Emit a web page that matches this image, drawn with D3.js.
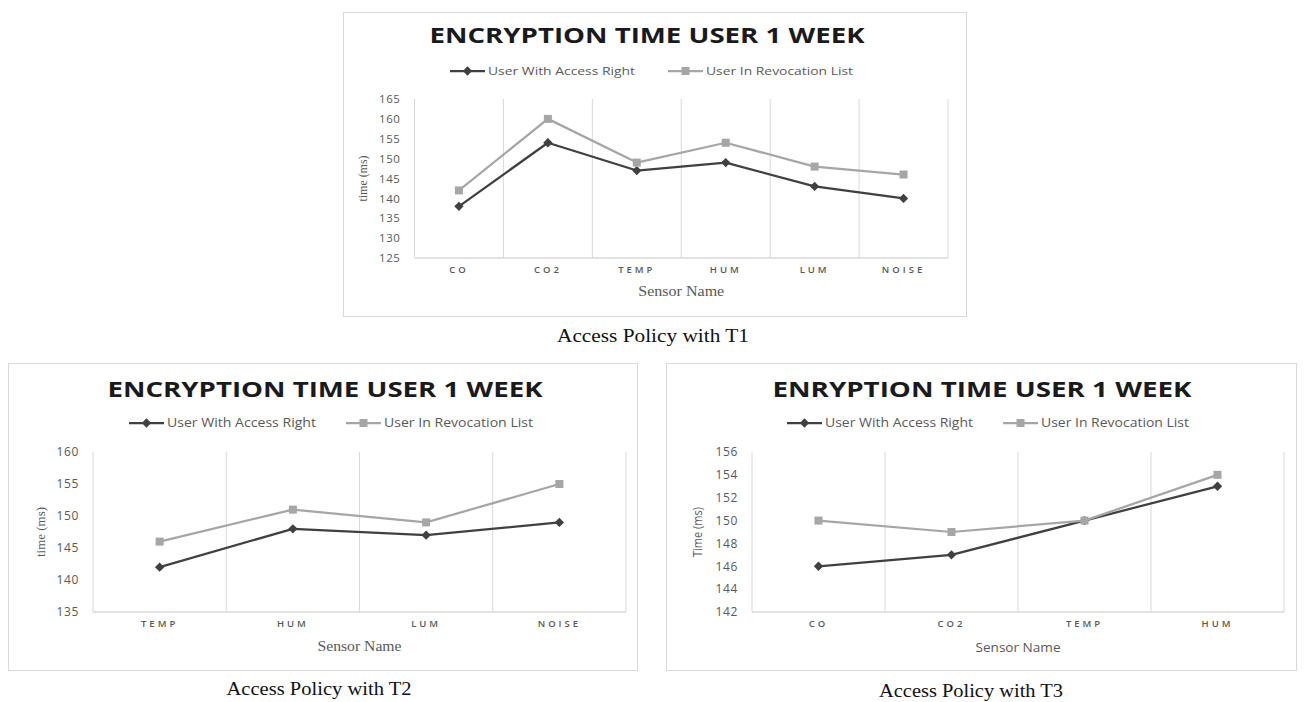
<!DOCTYPE html>
<html>
<head>
<meta charset="utf-8">
<script src="https://cdn.jsdelivr.net/npm/d3@7"></script>
<style>
  html, body { margin: 0; padding: 0; background: #fff; }
  svg { display: block; }
</style>
</head>
<body>
<div id="chart"></div>
<script>
// ---- data ----
const t1Categories = ["CO", "CO2", "TEMP", "HUM", "LUM", "NOISE"];
const t1AccessRight = [138, 154, 147, 149, 143, 140];
const t1Revocation = [142, 160, 149, 154, 148, 146];
const t1Ticks = [125, 130, 135, 140, 145, 150, 155, 160, 165];

const t2Categories = ["TEMP", "HUM", "LUM", "NOISE"];
const t2AccessRight = [142, 148, 147, 149];
const t2Revocation = [146, 151, 149, 155];
const t2Ticks = [135, 140, 145, 150, 155, 160];

const t3Categories = ["CO", "CO2", "TEMP", "HUM"];
const t3AccessRight = [146, 147, 150, 153];
const t3Revocation = [150, 149, 150, 154];
const t3Ticks = [142, 144, 146, 148, 150, 152, 154, 156];

const seriesNames = ["User With Access Right", "User In Revocation List"];

// ---- layout for the three panels ----
const serif = "'Liberation Serif', 'Times New Roman', serif";
const sans = "'Open Sans', sans-serif";

const panels = [
  {
    title: "ENCRYPTION TIME USER 1 WEEK", caption: "Access Policy with T1",
    categories: t1Categories, series: [t1AccessRight, t1Revocation], ticks: t1Ticks,
    box: [343, 12, 966, 316], plot: [414.5, 99, 948, 258],
    titleX: 647, titleY: 43, titleW: 435, titleSize: 21,
    legendY: 71, legendX: [450, 668], legendW: 147, legendSize: 11,
    tickSize: 11.5, catSize: 9.5, catY: 275,
    yTitle: "time (ms)", yTitleX: 367, yTitleFont: serif, yTitleSize: 12.5, yTitleW: 46,
    xTitleY: 296, xTitleFont: serif, xTitleSize: 14, xTitleW: 86,
    captionX: 653, captionY: 342, captionW: 192
  },
  {
    title: "ENCRYPTION TIME USER 1 WEEK", caption: "Access Policy with T2",
    categories: t2Categories, series: [t2AccessRight, t2Revocation], ticks: t2Ticks,
    box: [8, 363, 637, 670], plot: [93, 452, 626, 612],
    titleX: 325, titleY: 397, titleW: 435, titleSize: 22,
    legendY: 423, legendX: [129, 346], legendW: 149, legendSize: 12,
    tickSize: 12, catSize: 9.5, catY: 629,
    yTitle: "time (ms)", yTitleX: 45, yTitleFont: serif, yTitleSize: 12.5, yTitleW: 50,
    xTitleY: 651, xTitleFont: serif, xTitleSize: 14, xTitleW: 84,
    captionX: 319, captionY: 695, captionW: 185
  },
  {
    title: "ENRYPTION TIME USER 1 WEEK", caption: "Access Policy with T3",
    categories: t3Categories, series: [t3AccessRight, t3Revocation], ticks: t3Ticks,
    box: [666, 363, 1296, 670], plot: [752, 452, 1284, 612],
    titleX: 982, titleY: 397, titleW: 419, titleSize: 22,
    legendY: 423, legendX: [787, 1003], legendW: 148, legendSize: 12,
    tickSize: 12, catSize: 9.5, catY: 629,
    yTitle: "Time (ms)", yTitleX: 702, yTitleFont: sans, yTitleSize: 12, yTitleW: 50,
    xTitleY: 652, xTitleFont: sans, xTitleSize: 12, xTitleW: 85,
    captionX: 971, captionY: 697, captionW: 184
  }
];

const colors = ["#404040", "#a6a6a6"];
const gridColor = "#d9d9d9";
const textGrey = "#595959";

const svg = d3.select("#chart").append("svg")
  .attr("width", 1304)
  .attr("height", 702);

// diamond for series 0 (a rotated square), square for series 1
function marker(sel, i, x, y) {
  if (i === 0) {
    sel.append("rect")
      .attr("x", -3.3).attr("y", -3.3)
      .attr("width", 6.6).attr("height", 6.6)
      .attr("transform", `translate(${x},${y}) rotate(45)`)
      .attr("fill", colors[0]);
  } else {
    sel.append("rect")
      .attr("x", x - 4).attr("y", y - 4)
      .attr("width", 8).attr("height", 8)
      .attr("fill", colors[1]);
  }
}

panels.forEach(p => {
  const g = svg.append("g");
  const [bx0, by0, bx1, by1] = p.box;
  const [left, top, right, bottom] = p.plot;

  // chart frame
  g.append("rect")
    .attr("x", bx0 + 0.5).attr("y", by0 + 0.5)
    .attr("width", bx1 - bx0).attr("height", by1 - by0)
    .attr("fill", "#fff").attr("stroke", "#d9d9d9");

  const x = d3.scaleBand().domain(p.categories).range([left, right]);
  const y = d3.scaleLinear()
    .domain(d3.extent(p.ticks))
    .range([bottom, top]);

  // vertical gridlines at category boundaries
  const bounds = p.categories.map(c => x(c)).concat([right]);
  g.append("g").selectAll("line").data(bounds).join("line")
    .attr("x1", d => d).attr("x2", d => d)
    .attr("y1", top).attr("y2", bottom)
    .attr("stroke", gridColor).attr("stroke-width", 1);

  // baseline
  g.append("line")
    .attr("x1", left).attr("x2", right)
    .attr("y1", bottom).attr("y2", bottom)
    .attr("stroke", gridColor).attr("stroke-width", 1.5);

  // y axis labels
  const yAxis = g.append("g")
    .attr("transform", `translate(${left - 14},0)`)
    .call(d3.axisLeft(y).tickValues(p.ticks).tickSize(0).tickPadding(0));
  yAxis.select(".domain").remove();
  yAxis.selectAll("text")
    .attr("fill", textGrey)
    .attr("font-family", sans)
    .attr("font-size", p.tickSize)
    .attr("letter-spacing", "0.6px");

  // x axis (category) labels
  const xAxis = g.append("g")
    .attr("transform", `translate(0,${p.catY - 9})`)
    .call(d3.axisBottom(x).tickSize(0).tickPadding(0));
  xAxis.select(".domain").remove();
  xAxis.selectAll("text")
    .attr("fill", textGrey)
    .attr("font-family", sans)
    .attr("font-size", p.catSize)
    .attr("font-weight", 600)
    .attr("letter-spacing", "3px");

  // series lines + markers
  p.series.forEach((vals, i) => {
    const pts = vals.map((v, k) => [x(p.categories[k]) + x.bandwidth() / 2, y(v)]);
    g.append("path")
      .attr("d", d3.line()(pts))
      .attr("fill", "none")
      .attr("stroke", colors[i])
      .attr("stroke-width", 2.25)
      .attr("stroke-linejoin", "round");
    pts.forEach(pt => marker(g, i, pt[0], pt[1]));
  });

  // title
  g.append("text")
    .attr("x", p.titleX - p.titleW / 2).attr("y", p.titleY)
    .attr("textLength", p.titleW).attr("lengthAdjust", "spacingAndGlyphs")
    .attr("font-family", sans).attr("font-weight", 700)
    .attr("font-size", p.titleSize).attr("fill", "#1a1a1a")
    .text(p.title);

  // legend
  seriesNames.forEach((name, i) => {
    const lx = p.legendX[i];
    g.append("line")
      .attr("x1", lx).attr("x2", lx + 35)
      .attr("y1", p.legendY).attr("y2", p.legendY)
      .attr("stroke", colors[i]).attr("stroke-width", 2.25);
    marker(g, i, lx + 17.5, p.legendY);
    g.append("text")
      .attr("x", lx + 38).attr("y", p.legendY + 4)
      .attr("textLength", p.legendW).attr("lengthAdjust", "spacingAndGlyphs")
      .attr("font-family", sans).attr("font-size", p.legendSize)
      .attr("fill", textGrey)
      .text(name);
  });

  // axis titles
  g.append("text")
    .attr("transform", `translate(${p.yTitleX},${(top + bottom) / 2 + p.yTitleW / 2}) rotate(-90)`)
    .attr("textLength", p.yTitleW).attr("lengthAdjust", "spacingAndGlyphs")
    .attr("font-family", p.yTitleFont).attr("font-size", p.yTitleSize)
    .attr("fill", textGrey)
    .text(p.yTitle);

  g.append("text")
    .attr("x", (left + right) / 2 - p.xTitleW / 2).attr("y", p.xTitleY)
    .attr("textLength", p.xTitleW).attr("lengthAdjust", "spacingAndGlyphs")
    .attr("font-family", p.xTitleFont).attr("font-size", p.xTitleSize)
    .attr("fill", textGrey)
    .text("Sensor Name");

  // caption under the frame
  svg.append("text")
    .attr("x", p.captionX - p.captionW / 2).attr("y", p.captionY)
    .attr("textLength", p.captionW).attr("lengthAdjust", "spacingAndGlyphs")
    .attr("font-family", serif).attr("font-size", 18)
    .attr("fill", "#111")
    .text(p.caption);
});
</script>
</body>
</html>
